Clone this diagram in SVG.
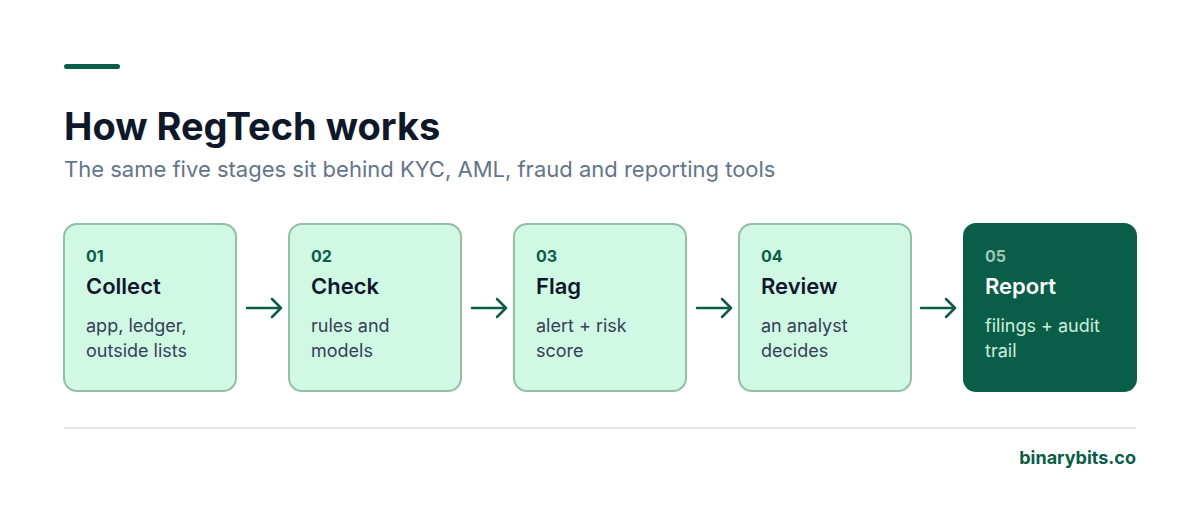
<svg xmlns="http://www.w3.org/2000/svg" width="1200" height="512" viewBox="0 0 1200 512">
<defs>
<style>
.t{font-family:Inter,"Noto Sans","Liberation Sans",sans-serif}
.box{fill:#d1f8e4;stroke:#91bfa9;stroke-width:2}
.dark{fill:#0a5e47}
.num{font-size:16px;font-weight:700;fill:#0a5e47}
.ttl{font-size:22px;font-weight:600;fill:#0f172a}
.dsc{font-size:18px;fill:#334155}
.arr{fill:none;stroke:#0a5e47;stroke-width:2.5;stroke-linecap:round;stroke-linejoin:round}
</style>
</defs>
<rect width="1200" height="512" fill="#ffffff"/>
<rect x="64" y="64" width="56" height="5" rx="2.5" fill="#0a5e47"/>
<text class="t" x="64" y="140" font-size="38" font-weight="700" fill="#0f172a">How RegTech works</text>
<text class="t" x="64" y="177" font-size="22" fill="#64748b">The same five stages sit behind KYC, AML, fraud and reporting tools</text>

<g id="connectors">
<path class="arr" d="M247 308H281M272 299L281 308L272 317"/>
<path class="arr" d="M472 308H506M497 299L506 308L497 317"/>
<path class="arr" d="M697 308H731M722 299L731 308L722 317"/>
<path class="arr" d="M921 308H955M946 299L955 308L946 317"/>
</g>

<g id="node1">
<rect class="box" x="64" y="224" width="172" height="167" rx="13"/>
<text class="t num" x="86" y="262">01</text>
<text class="t ttl" x="86" y="294">Collect</text>
<text class="t dsc" x="86" y="332">app, ledger,</text>
<text class="t dsc" x="86" y="357">outside lists</text>
</g>
<g id="node2">
<rect class="box" x="289" y="224" width="172" height="167" rx="13"/>
<text class="t num" x="311" y="262">02</text>
<text class="t ttl" x="311" y="294">Check</text>
<text class="t dsc" x="311" y="332">rules and</text>
<text class="t dsc" x="311" y="357">models</text>
</g>
<g id="node3">
<rect class="box" x="514" y="224" width="172" height="167" rx="13"/>
<text class="t num" x="536" y="262">03</text>
<text class="t ttl" x="536" y="294">Flag</text>
<text class="t dsc" x="536" y="332">alert + risk</text>
<text class="t dsc" x="536" y="357">score</text>
</g>
<g id="node4">
<rect class="box" x="739" y="224" width="172" height="167" rx="13"/>
<text class="t num" x="761" y="262">04</text>
<text class="t ttl" x="761" y="294">Review</text>
<text class="t dsc" x="761" y="332">an analyst</text>
<text class="t dsc" x="761" y="357">decides</text>
</g>
<g id="node5">
<rect class="dark" x="963" y="223" width="174" height="169" rx="13"/>
<text class="t num" x="985" y="262" style="fill:#9cc9b6">05</text>
<text class="t ttl" x="985" y="294" style="fill:#ffffff">Report</text>
<text class="t dsc" x="985" y="332" style="fill:#cdeedd">filings + audit</text>
<text class="t dsc" x="985" y="357" style="fill:#cdeedd">trail</text>
</g>

<rect x="64" y="427" width="1072" height="2" fill="#e2e8f0"/>
<text class="t" x="1136" y="464" text-anchor="end" font-size="18" font-weight="700" fill="#0a5e47">binarybits.co</text>
</svg>
